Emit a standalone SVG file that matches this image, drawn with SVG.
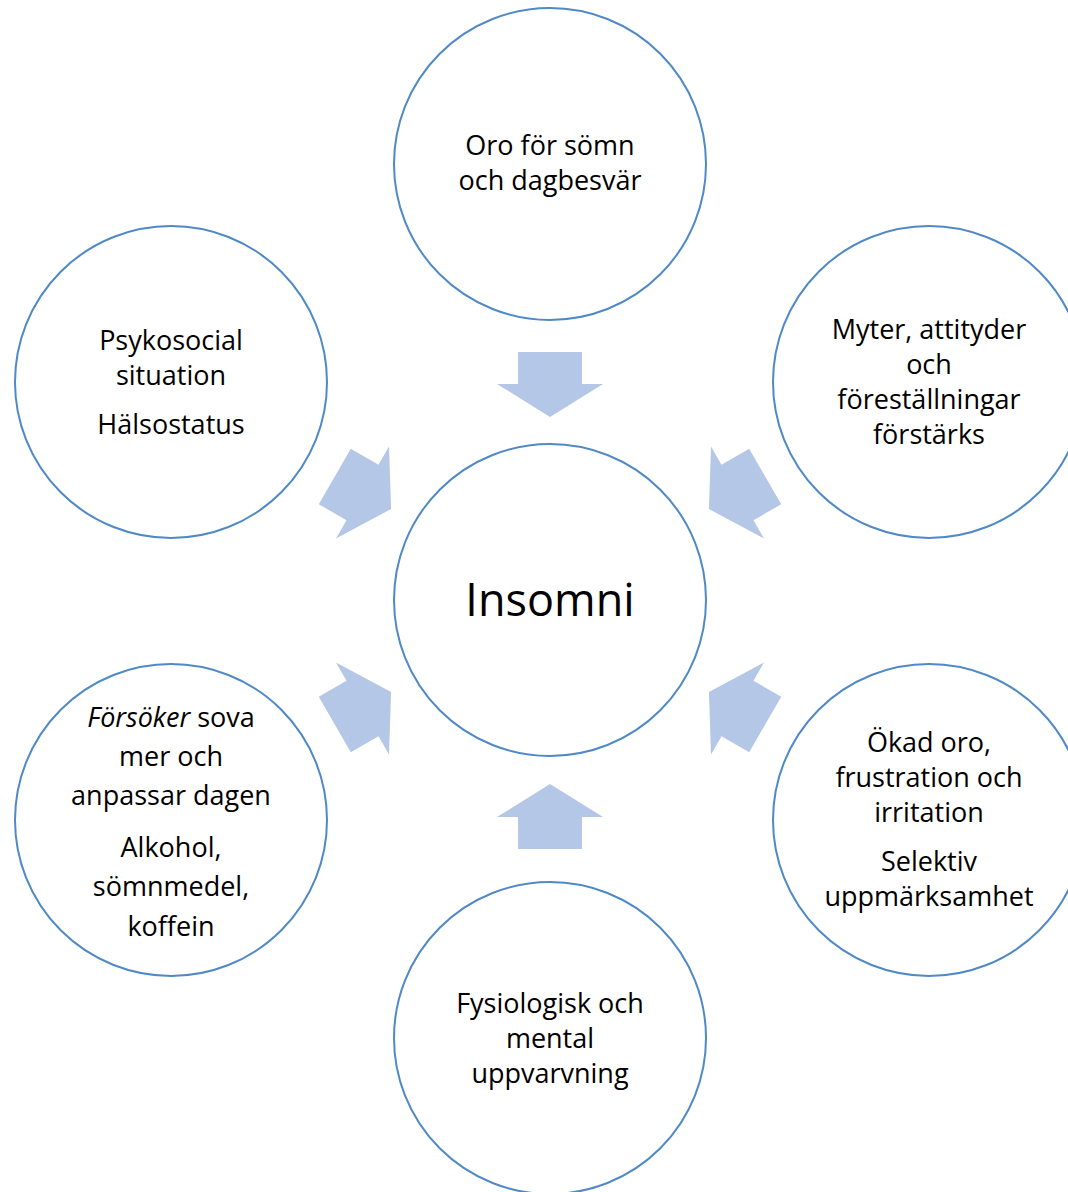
<svg xmlns="http://www.w3.org/2000/svg" width="1068" height="1192" viewBox="0 0 1068 1192">
<style>
.c{fill:#ffffff;stroke:#4f89c6;stroke-width:2}
.t{font-family:"Open Sans","Liberation Sans",sans-serif;font-size:27px;fill:#000;text-anchor:middle}
.big{font-size:45px}
.a{fill:#b4c7e7}
</style>
<defs>
<polygon id="arr" points="-32,-32 0,-32 0,-53 33,0 0,53 0,32 -32,32"/>
</defs>
<rect width="1068" height="1192" fill="#ffffff"/>
<g id="connectors">
<use href="#arr" class="a" transform="translate(550,384) rotate(90)"/>
<use href="#arr" class="a" transform="translate(550,817) rotate(-90)"/>
<use href="#arr" class="a" transform="translate(362.5,492.5) rotate(30)"/>
<use href="#arr" class="a" transform="translate(737.5,492.5) rotate(150)"/>
<use href="#arr" class="a" transform="translate(362.5,708.5) rotate(-30)"/>
<use href="#arr" class="a" transform="translate(737.5,708.5) rotate(-150)"/>
</g>
<g id="top">
<circle class="c" cx="550" cy="164" r="156"/>
<text class="t" x="550" y="155">Oro för sömn</text>
<text class="t" x="550" y="190">och dagbesvär</text>
</g>
<g id="center">
<circle class="c" cx="550" cy="600" r="156"/>
<text class="t big" x="550" y="616">Insomni</text>
</g>
<g id="upperleft">
<circle class="c" cx="171" cy="382" r="156"/>
<text class="t" x="171" y="350">Psykosocial</text>
<text class="t" x="171" y="385">situation</text>
<text class="t" x="171" y="434">Hälsostatus</text>
</g>
<g id="upperright">
<circle class="c" cx="929" cy="382" r="156"/>
<text class="t" x="929" y="339">Myter, attityder</text>
<text class="t" x="929" y="374">och</text>
<text class="t" x="929" y="409">föreställningar</text>
<text class="t" x="929" y="444">förstärks</text>
</g>
<g id="lowerleft">
<circle class="c" cx="171" cy="820" r="156"/>
<text class="t" x="171" y="727"><tspan font-style="italic">Försöker</tspan> sova</text>
<text class="t" x="171" y="766">mer och</text>
<text class="t" x="171" y="805">anpassar dagen</text>
<text class="t" x="171" y="857">Alkohol,</text>
<text class="t" x="171" y="896">sömnmedel,</text>
<text class="t" x="171" y="936">koffein</text>
</g>
<g id="lowerright">
<circle class="c" cx="929" cy="820" r="156"/>
<text class="t" x="929" y="752">Ökad oro,</text>
<text class="t" x="929" y="787">frustration och</text>
<text class="t" x="929" y="822">irritation</text>
<text class="t" x="929" y="871">Selektiv</text>
<text class="t" x="929" y="906">uppmärksamhet</text>
</g>
<g id="bottom">
<circle class="c" cx="550" cy="1038" r="156"/>
<text class="t" x="550" y="1013">Fysiologisk och</text>
<text class="t" x="550" y="1048">mental</text>
<text class="t" x="550" y="1083">uppvarvning</text>
</g>
</svg>
